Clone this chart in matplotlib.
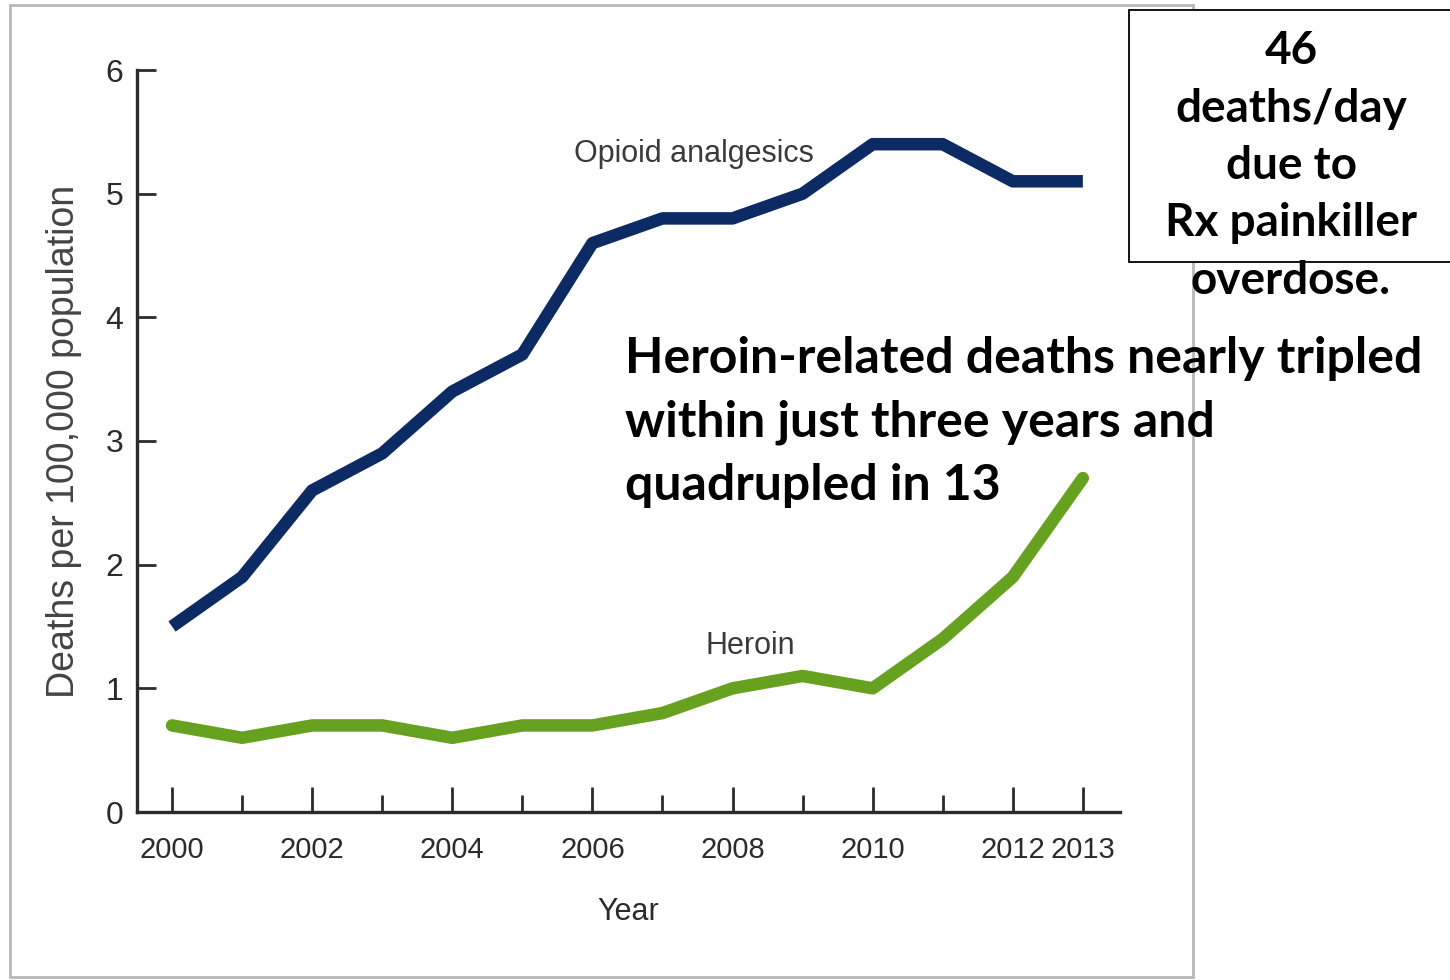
import matplotlib
matplotlib.use("Agg")
import matplotlib.pyplot as plt
from matplotlib import font_manager
from matplotlib.patches import Rectangle

years = list(range(2000, 2014))
opioid_rate = [1.5, 1.9, 2.6, 2.9, 3.4, 3.7, 4.6, 4.8, 4.8, 5.0, 5.4, 5.4, 5.1, 5.1]
heroin_rate = [0.7, 0.6, 0.7, 0.7, 0.6, 0.7, 0.7, 0.8, 1.0, 1.1, 1.0, 1.4, 1.9, 2.7]
major_years = [2000, 2002, 2004, 2006, 2008, 2010, 2012, 2013]
minor_years = [2001, 2003, 2005, 2007, 2009, 2011]
y_ticks = [0, 1, 2, 3, 4, 5, 6]

box_lines = ["46", "deaths/day", "due to", "Rx painkiller", "overdose."]
note_text = "Heroin-related deaths nearly tripled\nwithin just three years and\nquadrupled in 13"

installed = {f.name for f in font_manager.fontManager.ttflist}
if "Liberation Sans Narrow" in installed:
    CHART_FONT = ["Liberation Sans Narrow", "DejaVu Sans"]
    XTICK_SIZE, YTICK_SIZE, LABEL_SIZE = 25, 25, 25
else:
    CHART_FONT = ["Liberation Sans", "DejaVu Sans"]
    XTICK_SIZE, YTICK_SIZE, LABEL_SIZE = 21, 23, 22
NOTE_FONT = ["Lato", "DejaVu Sans"]
AXIS_COLOR = "#2b2b2b"
TEXT_GRAY = "#3a3a3a"

fig = plt.figure(figsize=(14.5, 9.8), dpi=100)
fig.patch.set_facecolor("white")

# light gray frame around the chart panel
fig.patches.append(Rectangle((10 / 1450, 3 / 980), 1183 / 1450, 972 / 980,
                             transform=fig.transFigure, fill=False,
                             edgecolor="#b8b8b8", linewidth=2.0, zorder=0))

ax = fig.add_axes([137 / 1450, 168 / 980, 983 / 1450, 742 / 980])
ax.set_xlim(1999.5, 2013.53)
ax.set_ylim(0, 6)
ax.patch.set_alpha(0)

ax.plot(years, opioid_rate, color="#0c2a64", linewidth=9, solid_joinstyle="round",
        solid_capstyle="butt", zorder=3)
ax.plot(years, heroin_rate, color="#66a11f", linewidth=9, solid_joinstyle="round",
        solid_capstyle="round", zorder=3)

for side in ("top", "right"):
    ax.spines[side].set_visible(False)
for side in ("left", "bottom"):
    ax.spines[side].set_linewidth(2.4)
    ax.spines[side].set_color(AXIS_COLOR)

ax.set_xticks(major_years)
ax.set_xticklabels([str(y) for y in major_years])
ax.set_xticks(minor_years, minor=True)
ax.set_yticks(y_ticks)
ax.tick_params(axis="x", which="major", direction="in", length=18, width=2,
               color=AXIS_COLOR, pad=17)
ax.tick_params(axis="x", which="minor", direction="in", length=12, width=2,
               color=AXIS_COLOR)
ax.tick_params(axis="y", direction="in", length=14, width=2, color=AXIS_COLOR, pad=10)
for label in ax.get_xticklabels():
    label.set_fontfamily(CHART_FONT)
    label.set_fontsize(XTICK_SIZE)
    label.set_color(AXIS_COLOR)
for label in ax.get_yticklabels():
    label.set_fontfamily(CHART_FONT)
    label.set_fontsize(YTICK_SIZE)
    label.set_color(AXIS_COLOR)

ax.set_xlabel("Year", fontsize=LABEL_SIZE, family=CHART_FONT, color=AXIS_COLOR, labelpad=24)
ax.set_ylabel("Deaths per 100,000 population", fontsize=27,
              family=["Liberation Sans", "DejaVu Sans"], color="#444444", labelpad=17)

ax.text(2007.45, 5.32, "Opioid analgesics", fontsize=LABEL_SIZE, family=CHART_FONT,
        color=TEXT_GRAY, ha="center", va="center")
ax.text(2008.25, 1.34, "Heroin", fontsize=LABEL_SIZE, family=CHART_FONT,
        color=TEXT_GRAY, ha="center", va="center")

fig.text(625 / 1450, 1 - 336 / 980, note_text, fontsize=36, fontweight="bold",
         family=NOTE_FONT, ha="left", va="top", linespacing=1.5)

# boxed callout at the top right
fig.patches.append(Rectangle((1129 / 1450, 1 - 262 / 980), 330 / 1450, 252 / 980,
                             transform=fig.transFigure, facecolor="white",
                             edgecolor="black", linewidth=1.3, zorder=1))
line_y = [51, 109, 166, 223, 281]
for text, y in zip(box_lines, line_y):
    fig.text(1291 / 1450, 1 - y / 980, text, fontsize=33, fontweight="bold",
             family=NOTE_FONT, ha="center", va="center", zorder=5)

fig.savefig("out.png", dpi=100, facecolor="white")
